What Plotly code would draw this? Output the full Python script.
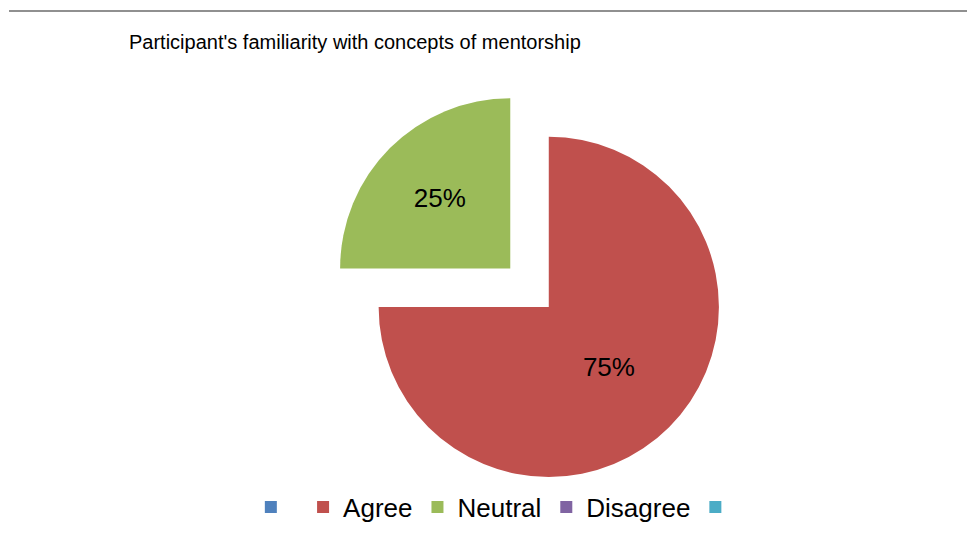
import plotly.graph_objects as go

# Survey responses
categories = [" ", "Agree", "Neutral", "Disagree", "  "]
shares = [0, 75, 25, 0, 0]
slice_colors = ["#4F81BD", "#C0504D", "#9BBB59", "#8064A2", "#4BACC6"]
pulls = [0, 0, 0.32, 0, 0]
title_text = "Participant's familiarity with concepts of mentorship"

# only the non-empty slices carry a percentage label
label_templates = ["%{percent:.0%}" if v > 0 else "" for v in shares]

W, H = 967, 545
FONT = "Arial, Liberation Sans, sans-serif"

fig = go.Figure(
    go.Pie(
        labels=categories,
        values=shares,
        sort=False,
        direction="clockwise",
        rotation=0,
        pull=pulls,
        marker=dict(colors=slice_colors, line=dict(width=0)),
        texttemplate=label_templates,
        textposition="inside",
        insidetextorientation="horizontal",
        textfont=dict(family=FONT, size=26, color="#000000"),
        hoverinfo="label+percent",
        domain=dict(x=[0.30, 0.835], y=[0.0248, 0.849]),
        showlegend=True,
    )
)

fig.update_layout(
    width=W,
    height=H,
    margin=dict(l=0, r=0, t=0, b=0),
    paper_bgcolor="#FFFFFF",
    plot_bgcolor="#FFFFFF",
    font=dict(family=FONT, color="#000000"),
    showlegend=True,
    legend=dict(
        orientation="h",
        x=0.52,
        xanchor="center",
        y=(H - 507) / H,
        yanchor="middle",
        font=dict(family=FONT, size=26, color="#000000"),
        traceorder="normal",
        bgcolor="rgba(0,0,0,0)",
    ),
    annotations=[
        dict(
            text=title_text,
            xref="paper",
            yref="paper",
            x=127 / W,
            y=1 - 42 / H,
            xanchor="left",
            yanchor="middle",
            showarrow=False,
            font=dict(family=FONT, size=20, color="#000000"),
        )
    ],
    shapes=[
        dict(
            type="line",
            xref="paper",
            yref="paper",
            x0=9 / W,
            x1=1,
            y0=1 - 11 / H,
            y1=1 - 11 / H,
            line=dict(color="#6B6B6B", width=1.5),
        )
    ],
)

fig.write_html("out.html")
